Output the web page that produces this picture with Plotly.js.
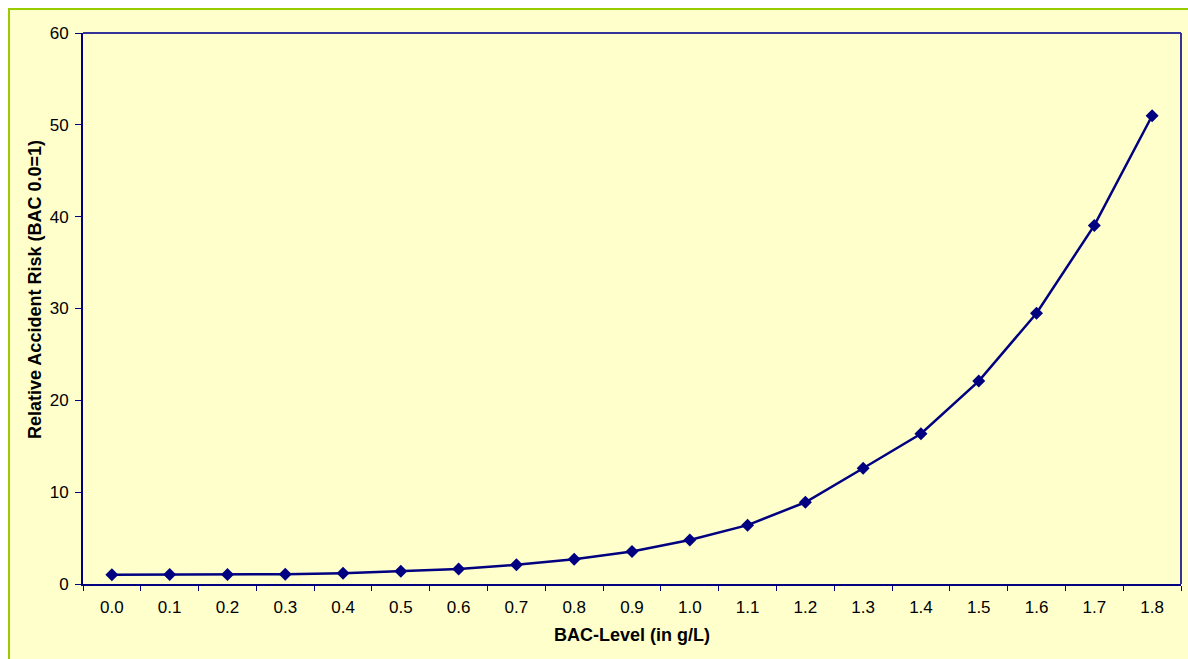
<!DOCTYPE html>
<html>
<head>
<meta charset="utf-8">
<script src="https://cdn.plot.ly/plotly-3.0.1.min.js"></script>
<style>
html,body{margin:0;padding:0;background:#ffffff;overflow:hidden;width:1188px;height:659px;}
#wrap{position:absolute;left:8px;top:8px;border-top:2px solid #99cc00;border-left:2px solid #99cc00;width:1190px;height:660px;}
#chart{width:1190px;height:660px;}
</style>
</head>
<body>
<div id="wrap"><div id="chart"></div></div>
<script>
const bacLevels = ['0.0','0.1','0.2','0.3','0.4','0.5','0.6','0.7','0.8','0.9','1.0','1.1','1.2','1.3','1.4','1.5','1.6','1.7','1.8'];
const relativeRisk = [1.00,1.03,1.03,1.06,1.18,1.38,1.63,2.09,2.69,3.54,4.79,6.41,8.90,12.60,16.36,22.10,29.48,39.05,50.99];
const yTicks = [0,10,20,30,40,50,60];

const trace = {
  x: bacLevels,
  y: relativeRisk,
  type: 'scatter',
  mode: 'lines+markers',
  line: {color: '#000080', width: 2.5},
  marker: {symbol: 'diamond', size: 10, color: '#000080'},
  hoverinfo: 'x+y'
};

const layout = {
  width: 1190,
  height: 660,
  margin: {l: 73, r: 19, t: 23, b: 86},
  paper_bgcolor: '#ffffcc',
  plot_bgcolor: '#ffffcc',
  showlegend: false,
  font: {family: 'Liberation Sans, Arial, sans-serif', size: 17, color: '#000000'},
  xaxis: {
    type: 'category',
    range: [-0.5, 18.5],
    tickson: 'boundaries',
    ticks: 'outside',
    ticklen: 5,
    tickcolor: '#000080',
    tickwidth: 1,
    ticklabelstandoff: 7,
    showline: true,
    linecolor: '#000080',
    linewidth: 2,
    showgrid: false,
    zeroline: false,
    tickfont: {size: 17},
    title: {text: '<b>BAC-Level (in g/L)</b>', font: {size: 18}, standoff: 12}
  },
  yaxis: {
    range: [0, 60],
    tickvals: yTicks,
    ticktext: yTicks.map(String),
    ticks: 'outside',
    ticklen: 6,
    tickcolor: '#000080',
    tickwidth: 1,
    ticklabelstandoff: 3,
    showline: true,
    linecolor: '#000080',
    linewidth: 2,
    showgrid: false,
    zeroline: false,
    tickfont: {size: 17}
  },
  annotations: [
    {text: '<b>Relative Accident Risk (BAC 0.0=1)</b>', xref: 'paper', yref: 'paper',
     x: -0.0437, y: 0.5336, xanchor: 'center', yanchor: 'middle', textangle: -90,
     showarrow: false, font: {size: 18, color: '#000000'}}
  ],
  shapes: [
    {type: 'line', xref: 'paper', yref: 'paper', x0: 0, x1: 1, y0: 1, y1: 1, line: {color: '#333399', width: 2}},
    {type: 'line', xref: 'paper', yref: 'paper', x0: 1, x1: 1, y0: 0, y1: 1, line: {color: '#333399', width: 2}}
  ]
};

Plotly.newPlot('chart', [trace], layout, {displayModeBar: false, staticPlot: true});
</script>
</body>
</html>
